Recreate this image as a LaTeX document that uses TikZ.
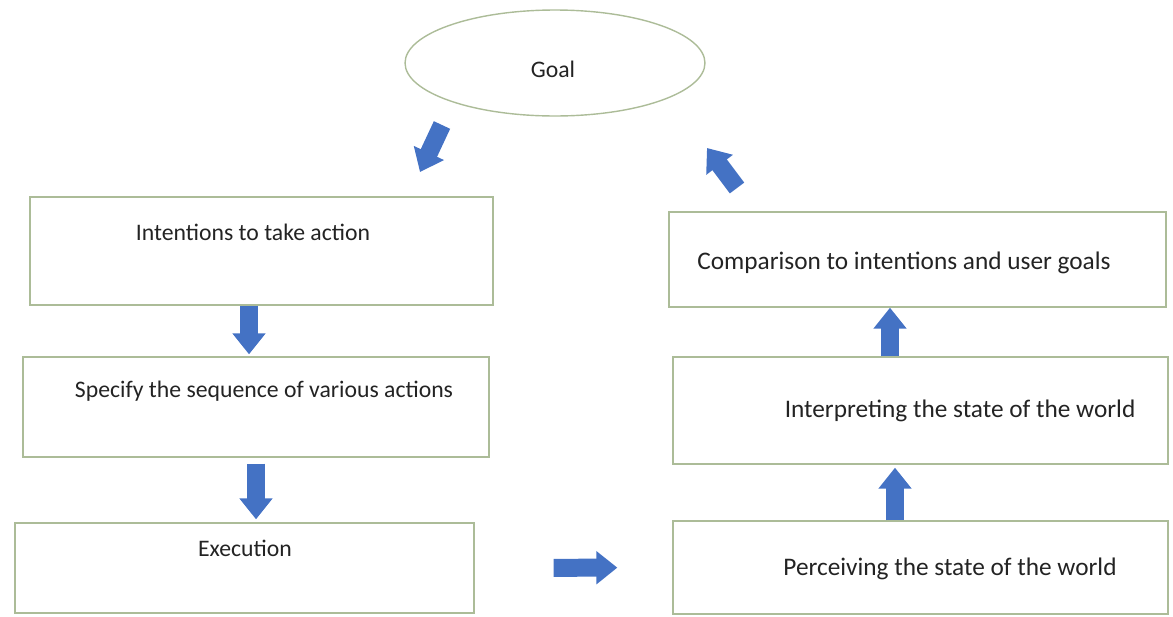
\documentclass[tikz,border=0pt]{standalone}
\usepackage{fontspec}
\setmainfont{Carlito}
\usetikzlibrary{arrows.meta, shapes.geometric}
\definecolor{boxline}{RGB}{172,188,152}
\definecolor{arrowblue}{RGB}{68,114,196}
\definecolor{textgray}{RGB}{35,35,35}

\begin{document}
\begin{tikzpicture}[x=0.02cm, y=-0.02cm,
    stagebox/.style={draw=boxline, line width=0.8pt, inner sep=0pt},
    stagetext/.style={text=textgray, font=\fontsize{13.5}{16}\selectfont, inner sep=1pt},
    widetext/.style={stagetext, font=\fontsize{14.4}{17}\selectfont},
    blockarrow/.style={arrowblue, line width=0.36cm, -{Triangle[width=0.64cm, length=0.42cm]}}]
    \useasboundingbox (0,0) rectangle (1173,616);
    \node[stagebox, ellipse, minimum width=6cm, minimum height=2.12cm] (goal) at (555,63) {};
    \node[stagetext] (goaltext) at (553,69) {Goal};
    \node[stagebox, minimum width=9.26cm, minimum height=2.16cm] (int) at (261.5,251) {};
    \node[stagebox, minimum width=9.32cm, minimum height=2cm] (spec) at (256,407) {};
    \node[stagebox, minimum width=9.18cm, minimum height=1.8cm] (exec) at (244.5,568) {};
    \node[stagebox, minimum width=9.94cm, minimum height=1.9cm] (cmp) at (917.5,259.5) {};
    \node[stagebox, minimum width=9.9cm, minimum height=2.14cm] (interp) at (920.5,410.5) {};
    \node[stagebox, minimum width=9.9cm, minimum height=1.86cm] (perc) at (920.5,567.5) {};
    \node[stagetext] (inttext) at (253,232) {Intentions to take action};
    \node[stagetext] (spectext) at (264,391) {Specify the sequence of various actions};
    \node[stagetext] (exectext) at (245,548) {Execution};
    \node[widetext] (cmptext) at (904,263) {Comparison to intentions and user goals};
    \node[widetext] (interptext) at (960,411) {Interpreting the state of the world};
    \node[widetext] (perctext) at (950,569) {Perceiving the state of the world};
    \coordinate (leftcol1) at (249,0);
    \coordinate (leftcol2) at (256,0);
    \coordinate (rightcol1) at (890,0);
    \coordinate (rightcol2) at (895,0);
    \coordinate (gtail) at (442,125);
    \coordinate (ghead) at (420,172);
    \coordinate (rtail) at (737,188);
    \coordinate (rhead) at (707,148);
    \draw[blockarrow] (gtail) -- (ghead);
    \draw[blockarrow, shorten >=0.04cm] (leftcol1 |- int.south) -- (leftcol1 |- spec.north);
    \draw[blockarrow, shorten <=0.12cm, shorten >=0.06cm] (leftcol2 |- spec.south) -- (leftcol2 |- exec.north);
    \draw[blockarrow, shorten <=1.58cm, shorten >=1.1cm] (exec.east) -- (perc.west);
    \draw[blockarrow, shorten >=0.06cm] (rightcol2 |- perc.north) -- (rightcol2 |- interp.south);
    \draw[blockarrow] (rightcol1 |- interp.north) -- (rightcol1 |- cmp.south);
    \draw[blockarrow] (rtail) -- (rhead);
\end{tikzpicture}
\end{document}
